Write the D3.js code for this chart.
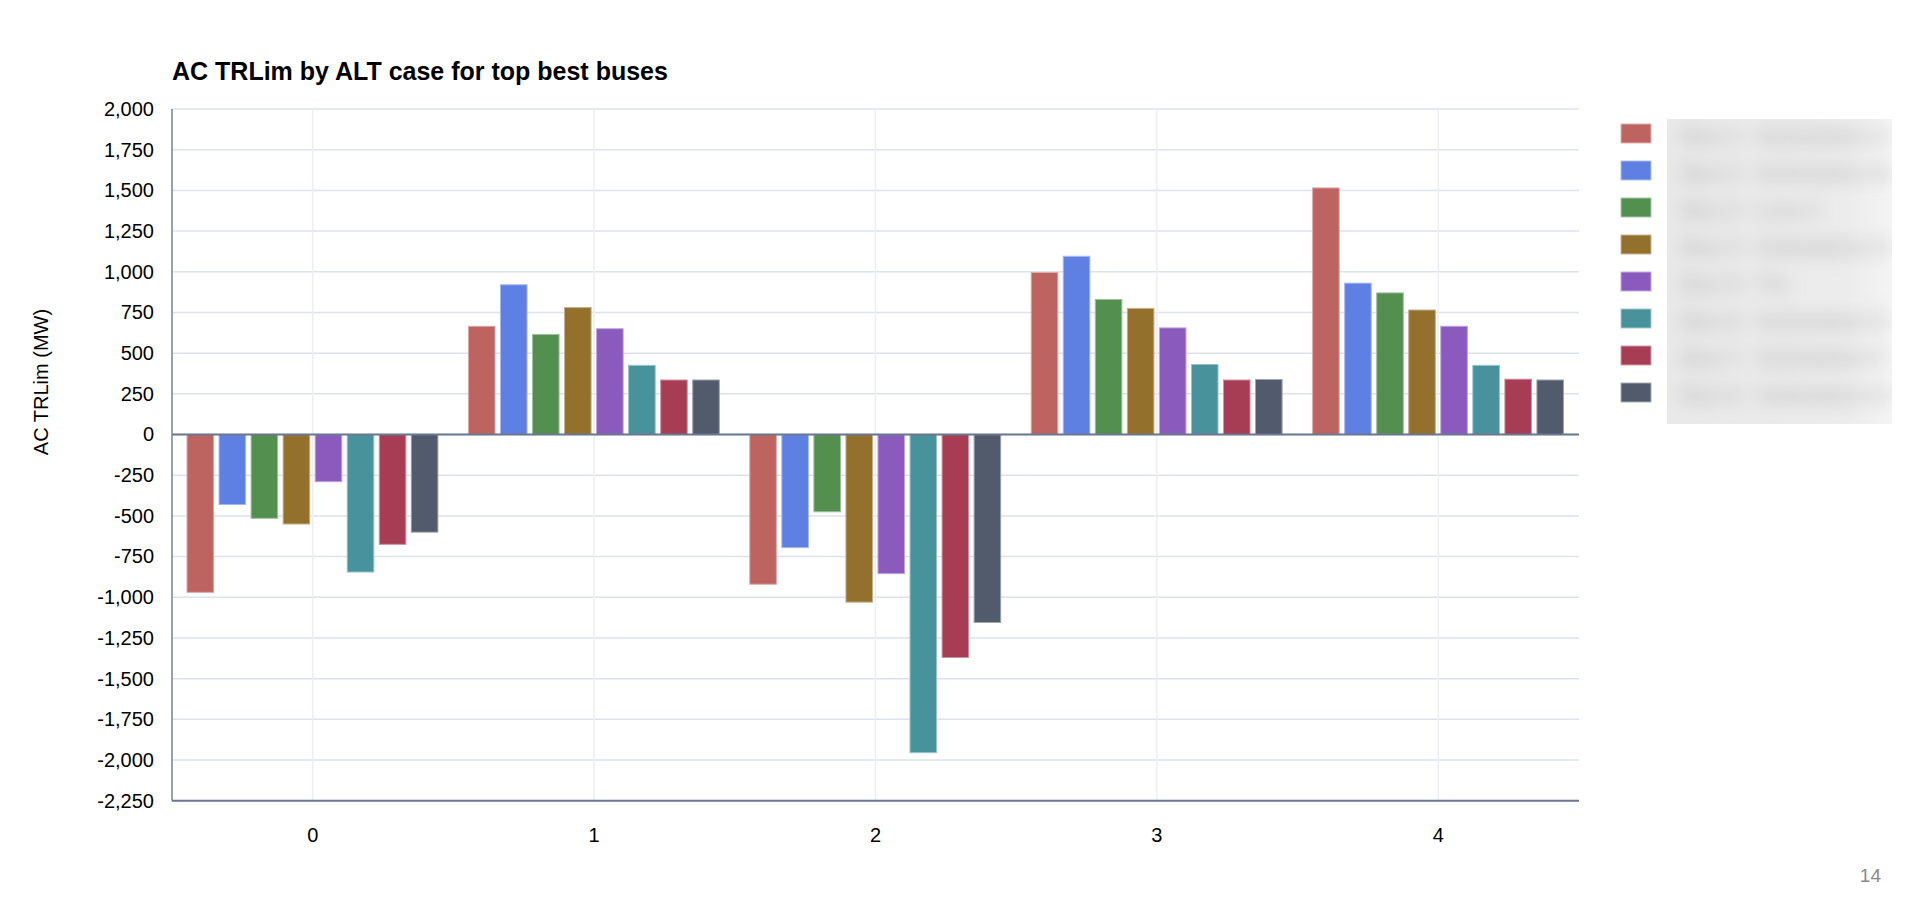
<!DOCTYPE html>
<html>
<head>
<meta charset="utf-8">
<script src="https://cdn.jsdelivr.net/npm/d3@7"></script>
<style>
  html, body { margin: 0; padding: 0; background: #ffffff; }
  svg { display: block; font-family: "Liberation Sans", Arial, sans-serif; }
</style>
</head>
<body>
<svg id="chart" width="1912" height="903"></svg>
<script>
// ---- data ----
const categories = ["0", "1", "2", "3", "4"];
const seriesNames = ["Bus 1  ·  Substation A", "Bus 2  ·  Substation B", "Bus 3  ·  Line C", "Bus 4  ·  Substation D",
                     "Bus 5  ·  Tie", "Bus 6  ·  Substation E", "Bus 7  ·  Substation F", "Bus 8  ·  Substation G"];
const seriesColors = ["#bd6461", "#5e80e2", "#538f4f", "#94702d", "#8b5abd", "#48929b", "#a63d55", "#515b6c"];
const s1 = [-970, 665, -920, 995, 1515];
const s2 = [-430, 920, -695, 1095, 930];
const s3 = [-515, 615, -475, 830, 870];
const s4 = [-550, 780, -1030, 775, 765];
const s5 = [-290, 650, -855, 655, 665];
const s6 = [-845, 425, -1955, 430, 425];
const s7 = [-675, 335, -1370, 335, 340];
const s8 = [-600, 335, -1155, 338, 335];
const seriesValues = [s1, s2, s3, s4, s5, s6, s7, s8];
const yTicks = [2000, 1750, 1500, 1250, 1000, 750, 500, 250, 0, -250, -500, -750, -1000, -1250, -1500, -1750, -2000, -2250];
const titleText = "AC TRLim by ALT case for top best buses";
const yAxisTitle = "AC TRLim (MW)";
const pageNumber = "14";

// ---- layout ----
const svg = d3.select("#chart");
const plot = { left: 172, right: 1579, top: 109, bottom: 800.7 };

const y = d3.scaleLinear().domain([-2250, 2000]).range([plot.bottom, plot.top]);
const x0 = d3.scaleBand().domain(categories).range([plot.left, plot.right]).padding(0);
const x1 = d3.scaleBand().domain(d3.range(seriesNames.length))
  .range([15, x0.bandwidth() - 15.5]).paddingInner(0.17).paddingOuter(0);
const color = d3.scaleOrdinal().domain(d3.range(seriesNames.length)).range(seriesColors);

const loc = d3.formatLocale({ decimal: ".", thousands: ",", grouping: [3], currency: ["$", ""], minus: "-" });
const fmt = loc.format(",");

// title
svg.append("text").attr("x", plot.left).attr("y", 80)
  .attr("font-size", 25).attr("font-weight", "bold").attr("fill", "#000")
  .text(titleText);

// horizontal grid
svg.append("g").selectAll("line").data(yTicks).join("line")
  .attr("x1", plot.left).attr("x2", plot.right)
  .attr("y1", d => y(d)).attr("y2", d => y(d))
  .attr("stroke", "#dde2ed").attr("stroke-width", 1.5);

// vertical grid at category centres
svg.append("g").selectAll("line").data(categories).join("line")
  .attr("x1", d => x0(d) + x0.bandwidth() / 2).attr("x2", d => x0(d) + x0.bandwidth() / 2)
  .attr("y1", plot.top).attr("y2", plot.bottom)
  .attr("stroke", "#eceef4").attr("stroke-width", 1.5);

// bars
const groups = svg.append("g").selectAll("g").data(categories).join("g")
  .attr("transform", d => `translate(${x0(d)},0)`);
groups.selectAll("rect")
  .data((c, ci) => seriesValues.map((vals, si) => ({ si, v: vals[ci] })))
  .join("rect")
  .attr("x", d => x1(d.si))
  .attr("width", x1.bandwidth())
  .attr("y", d => y(Math.max(0, d.v)))
  .attr("height", d => Math.abs(y(d.v) - y(0)))
  .attr("fill", d => color(d.si))
  .attr("stroke", d => d3.interpolateRgb(color(d.si), "#ffffff")(0.45))
  .attr("stroke-width", 1);

// zero line
svg.append("line").attr("x1", plot.left).attr("x2", plot.right)
  .attr("y1", y(0)).attr("y2", y(0))
  .attr("stroke", "#6c7790").attr("stroke-width", 2);

// y axis
const yAxis = svg.append("g").attr("transform", `translate(${plot.left},0)`)
  .call(d3.axisLeft(y).tickValues(yTicks).tickFormat(fmt).tickSize(0).tickPadding(18));
yAxis.select(".domain").attr("stroke", "#76809a").attr("stroke-width", 1.5)
  .attr("d", `M0,${plot.top}V${plot.bottom}`);
yAxis.selectAll("text").attr("font-size", 20).attr("fill", "#000")
  .attr("font-family", "'Liberation Sans', Arial, sans-serif");

// x axis
const xAxis = svg.append("g").attr("transform", `translate(0,${plot.bottom})`)
  .call(d3.axisBottom(x0).tickSize(0).tickPadding(27));
xAxis.select(".domain").attr("stroke", "#6c7790").attr("stroke-width", 2)
  .attr("d", `M${plot.left},0H${plot.right}`);
xAxis.selectAll("text").attr("font-size", 20).attr("fill", "#000")
  .attr("font-family", "'Liberation Sans', Arial, sans-serif");

// y axis title
svg.append("text")
  .attr("transform", `translate(48,382) rotate(-90)`)
  .attr("text-anchor", "middle").attr("font-size", 20).attr("fill", "#000")
  .text(yAxisTitle);

// legend (labels are blurred in the reference)
const defs = svg.append("defs");
defs.append("filter").attr("id", "blur").attr("x", "-20%").attr("y", "-80%").attr("width", "140%").attr("height", "260%")
  .append("feGaussianBlur").attr("stdDeviation", 9);
defs.append("clipPath").attr("id", "legclip")
  .append("rect").attr("x", 1667).attr("y", 119).attr("width", 225).attr("height", 305);
const fade = defs.append("linearGradient").attr("id", "fade").attr("x1", 0).attr("x2", 1).attr("y1", 0).attr("y2", 0);
fade.append("stop").attr("offset", "0%").attr("stop-color", "#e9e9e9");
fade.append("stop").attr("offset", "80%").attr("stop-color", "#ececec");
fade.append("stop").attr("offset", "100%").attr("stop-color", "#f4f4f4");
const lg = svg.append("g");
const boxG = lg.append("g").attr("clip-path", "url(#legclip)");
boxG.append("rect").attr("x", 1667).attr("y", 119).attr("width", 225).attr("height", 305).attr("fill", "url(#fade)");
const blurG = boxG.append("g").attr("filter", "url(#blur)");
blurG.selectAll("text").data(seriesNames).join("text")
  .attr("x", 1682).attr("y", (d, i) => 143 + i * 37)
  .attr("font-size", 21).attr("font-weight", "bold").attr("fill", "#b9b9b9").text(d => d);
lg.selectAll("rect.sw").data(seriesNames).join("rect").attr("class", "sw")
  .attr("x", 1621).attr("y", (d, i) => 124 + i * 37)
  .attr("width", 30).attr("height", 19)
  .attr("fill", (d, i) => color(i))
  .attr("stroke", (d, i) => d3.interpolateRgb(color(i), "#ffffff")(0.5)).attr("stroke-width", 1);

// page number
svg.append("text").attr("x", 1881).attr("y", 882).attr("text-anchor", "end")
  .attr("font-size", 19).attr("fill", "#8a8a8a").text(pageNumber);
</script>
</body>
</html>
